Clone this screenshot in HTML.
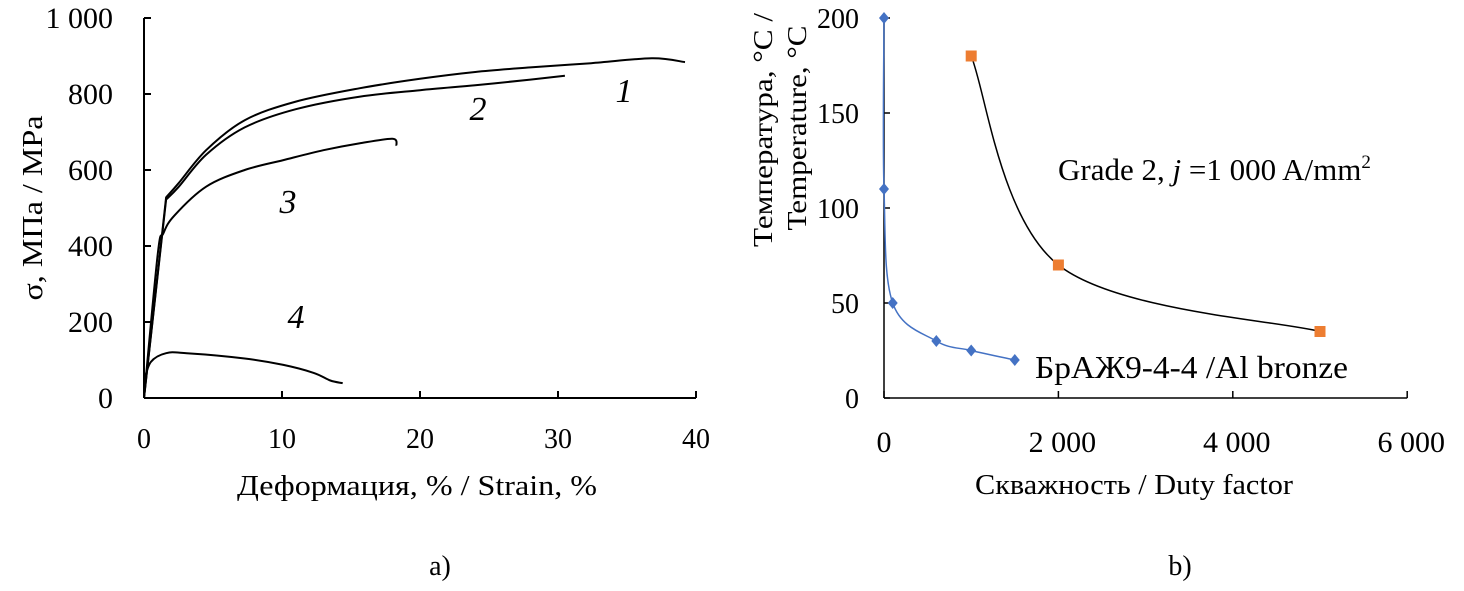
<!DOCTYPE html>
<html><head><meta charset="utf-8"><style>
html,body{margin:0;padding:0;background:#fff;}
svg{display:block;font-family:"Liberation Serif",serif;}
</style></head><body>
<svg id="c" width="1464" height="591" viewBox="0 0 1464 591">
<g id="left"></g>
<g id="right"></g>
</svg>
<script>
// ---- Chart a) data ----
const strainTicks = [0, 10, 20, 30, 40];
const stressTicks = [0, 200, 400, 600, 800, 1000];
const stressTickLabels = ["0", "200", "400", "600", "800", "1 000"];
const strain1 = [0, 1.6, 2.5, 4.5, 7.3, 11, 15.6, 20, 24, 28, 32.4, 36.8, 39.2];
const stress1 = [0, 528, 565, 652, 731, 780, 815, 840, 858, 870, 881, 894, 884];
const strain2 = [0, 1.6, 2.5, 4.5, 7.3, 11, 15.6, 20, 24, 28, 30.5];
const stress2 = [0, 522, 555, 640, 712, 760, 793, 810, 823, 838, 848];
const strain3 = [0, 1.0, 1.4, 2.2, 4.5, 7.3, 10.1, 13.0, 15.6, 18.0, 18.3];
const stress3 = [0, 380, 433, 480, 556, 600, 626, 652, 670, 682, 664];
const strain4 = [0, 0.5, 1.6, 3.1, 7.3, 10.1, 12.3, 13.5, 14.4];
const stress4 = [45, 95, 118, 118, 104, 87, 66, 46, 39];
// ---- Chart b) data ----
const dutyTicks = [0, 2000, 4000, 6000];
const dutyTickLabels = ["0", "2 000", "4 000", "6 000"];
const tempTicks = [0, 50, 100, 150, 200];
const gradeDuty = [1000, 2000, 5000];
const gradeTemp = [180, 70, 35];
const bronzeDuty = [0, 0, 100, 600, 1000, 1500];
const bronzeTemp = [200, 110, 50, 30, 25, 20];

const NS = "http://www.w3.org/2000/svg";
function mk(parent, tag, attrs, text){
  const e = document.createElementNS(NS, tag);
  for (const k in attrs) e.setAttribute(k, attrs[k]);
  if (text !== undefined) e.textContent = text;
  parent.appendChild(e);
  return e;
}
// axis functions
const xA = s => 144 + s * 13.8;
const yA = v => 398 - v * 0.38;
const xB = d => 884 + d * 0.0872;
const yB = t => 398 - t * 1.9;

function smoothSeg(xs, ys){
  let d = "";
  for (let i = 0; i < xs.length - 1; i++){
    const i0 = Math.max(0, i - 1), i3 = Math.min(xs.length - 1, i + 2);
    const c1x = xs[i] + (xs[i+1] - xs[i0]) / 6, c1y = ys[i] + (ys[i+1] - ys[i0]) / 6;
    const c2x = xs[i+1] - (xs[i3] - xs[i]) / 6, c2y = ys[i+1] - (ys[i3] - ys[i]) / 6;
    d += " C" + c1x.toFixed(1) + "," + c1y.toFixed(1) + " " + c2x.toFixed(1) + "," + c2y.toFixed(1) + " " + xs[i+1].toFixed(1) + "," + ys[i+1].toFixed(1);
  }
  return d;
}
function smoothPath(xs, ys){
  return "M" + xs[0].toFixed(1) + "," + ys[0].toFixed(1) + smoothSeg(xs, ys);
}
// straight elastic segment, then smooth
function elasticPath(xs, ys){
  return "M" + xs[0].toFixed(1) + "," + ys[0].toFixed(1) + " L" + xs[1].toFixed(1) + "," + ys[1].toFixed(1) + smoothSeg(xs.slice(1), ys.slice(1));
}

// ---- Left chart ----
const L = document.getElementById("left");
let e;
e = mk(L, "line", {x1:144, y1:18, x2:144, y2:398, stroke:"#000", "stroke-width":2});


e = mk(L, "line", {x1:144, y1:398, x2:xA(40), y2:398, stroke:"#000", "stroke-width":2});


stressTicks.forEach((v, i) => {
  const t = mk(L, "line", {x1:144, y1:yA(v), x2:151, y2:yA(v), stroke:"#000", "stroke-width":2});
  
  
  const lb = mk(L, "text", {x:113, y:yA(v) + 10, "text-anchor":"end", "font-size":30}, stressTickLabels[i]);
  
  
});
strainTicks.forEach((s, i) => {
  const t = mk(L, "line", {x1:xA(s), y1:398, x2:xA(s), y2:391, stroke:"#000", "stroke-width":2});
  
  
  const lb = mk(L, "text", {x:xA(s), y:448, "text-anchor":"middle", "font-size":28}, String(s));
  
  
});
[[strain1, stress1, "curve-1", true], [strain2, stress2, "curve-2", true], [strain3, stress3, "curve-3", false], [strain4, stress4, "curve-4", false]].forEach(c => {
  const xs = c[0].map(xA), ys = c[1].map(yA);
  const p = mk(L, "path", {d: c[3] ? elasticPath(xs, ys) : smoothPath(xs, ys), fill:"none", stroke:"#000", "stroke-width":2});
  
  
});
[["1", 624, 102, "curve-label-1"], ["2", 478, 120, "curve-label-2"], ["3", 288, 213, "curve-label-3"], ["4", 296, 328, "curve-label-4"]].forEach(a => {
  const t = mk(L, "text", {x:a[1], y:a[2], "text-anchor":"middle", "font-size":34, "font-style":"italic"}, a[0]);
  
  
});
e = mk(L, "text", {x:0, y:0, transform:"translate(42,208) rotate(-90)", "text-anchor":"middle", "font-size":28, textLength:185, lengthAdjust:"spacingAndGlyphs"}, "σ, МПа / MPa");


e = mk(L, "text", {x:417, y:495, "text-anchor":"middle", "font-size":28, textLength:360, lengthAdjust:"spacingAndGlyphs"}, "Деформация, % / Strain, %");


e = mk(L, "text", {x:440, y:575, "text-anchor":"middle", "font-size":28}, "а)");



// ---- Right chart ----
const R = document.getElementById("right");
e = mk(R, "line", {x1:884, y1:18, x2:884, y2:398, stroke:"#000", "stroke-width":1.5});


e = mk(R, "line", {x1:884, y1:398, x2:xB(6000), y2:398, stroke:"#000", "stroke-width":1.5});


tempTicks.forEach(t => {
  const k = mk(R, "line", {x1:884, y1:yB(t), x2:890, y2:yB(t), stroke:"#000", "stroke-width":1.5});
  
  
  const lb = mk(R, "text", {x:859, y:yB(t) + 10, "text-anchor":"end", "font-size":28}, String(t));
  
  
});
dutyTicks.forEach((d, i) => {
  const k = mk(R, "line", {x1:xB(d), y1:398, x2:xB(d), y2:391, stroke:"#000", "stroke-width":1.5});
  
  
  const lb = mk(R, "text", {x:xB(d) + (i ? 4 : 0), y:452, "text-anchor":"middle", "font-size":30}, dutyTickLabels[i]);
  
  
});
e = mk(R, "path", {d: smoothPath(gradeDuty.map(xB), gradeTemp.map(yB)), fill:"none", stroke:"#000", "stroke-width":1.5});


gradeDuty.forEach((d, i) => {
  const m = mk(R, "rect", {x:xB(d) - 5.5, y:yB(gradeTemp[i]) - 5.5, width:11, height:11, fill:"#ED7D31"});
  
  
});
e = mk(R, "path", {d: smoothPath(bronzeDuty.map(xB), bronzeTemp.map(yB)), fill:"none", stroke:"#4472C4", "stroke-width":1.5});


bronzeDuty.forEach((d, i) => {
  const x = xB(d), y = yB(bronzeTemp[i]);
  const m = mk(R, "polygon", {points:`${x},${y-6} ${x+5},${y} ${x},${y+6} ${x-5},${y}`, fill:"#4472C4"});
  
  
});
e = mk(R, "text", {x:1058, y:180, "font-size":31});


e.innerHTML = 'Grade 2, <tspan font-style="italic">j</tspan> =1 000 A/mm<tspan font-size="19" dy="-12">2</tspan>';
e = mk(R, "text", {x:1035, y:378, "font-size":32, textLength:313, lengthAdjust:"spacingAndGlyphs"}, "БрАЖ9-4-4 /Al bronze");


e = mk(R, "text", {x:0, y:0, transform:"translate(772,130) rotate(-90)", "text-anchor":"middle", "font-size":27, textLength:234, lengthAdjust:"spacingAndGlyphs"}, "Температура, °C /");


e = mk(R, "text", {x:0, y:0, transform:"translate(806,128) rotate(-90)", "text-anchor":"middle", "font-size":27, textLength:205, lengthAdjust:"spacingAndGlyphs"}, "Temperature, °C");


e = mk(R, "text", {x:1134, y:494, "text-anchor":"middle", "font-size":28, textLength:318, lengthAdjust:"spacingAndGlyphs"}, "Скважность / Duty factor");


e = mk(R, "text", {x:1180, y:575, "text-anchor":"middle", "font-size":28}, "b)");


</script>
</body></html>
